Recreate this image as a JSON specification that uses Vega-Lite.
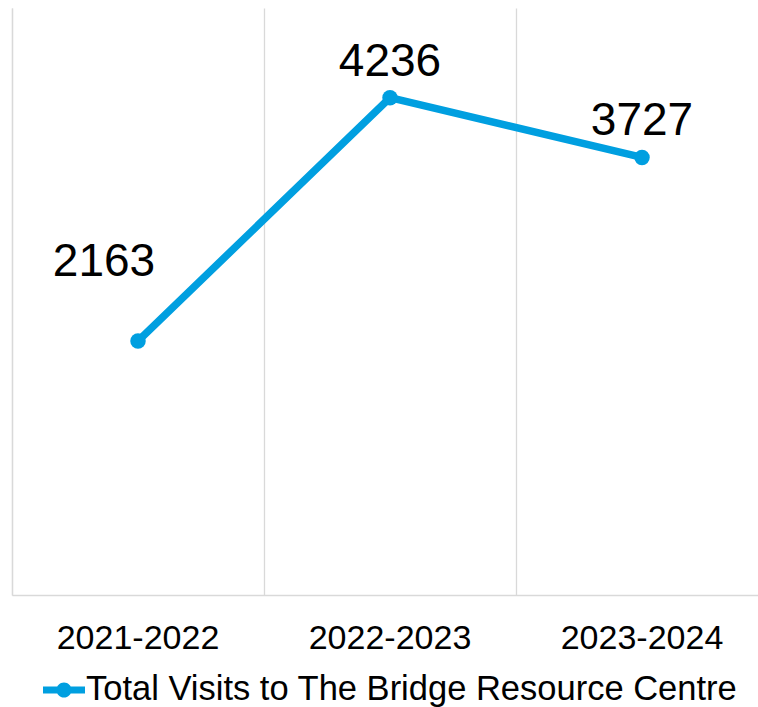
{
  "$schema": "https://vega.github.io/schema/vega-lite/v6.json",
  "width": 756,
  "height": 587,
  "autosize": {"type": "none"},
  "padding": {"left": 12, "top": 8, "right": 0, "bottom": 112},
  "background": "white",
  "config": {
    "view": {"stroke": null},
    "font": "Liberation Sans"
  },
  "data": {
    "values": [
      {"year": "2021-2022", "visits": 2163, "series": "Total Visits to The Bridge Resource Centre"},
      {"year": "2022-2023", "visits": 4236, "series": "Total Visits to The Bridge Resource Centre"},
      {"year": "2023-2024", "visits": 3727, "series": "Total Visits to The Bridge Resource Centre"}
    ]
  },
  "encoding": {
    "x": {
      "field": "year",
      "type": "nominal",
      "sort": null,
      "scale": {"type": "band", "paddingInner": 0, "paddingOuter": 0},
      "axis": {
        "title": null,
        "labelAngle": 0,
        "labelFont": "Liberation Sans",
        "labelFontSize": 34,
        "labelColor": "#000000",
        "labelBaseline": "alphabetic",
        "labelPadding": 53,
        "ticks": false,
        "domainColor": "#D9D9D9",
        "domainWidth": 1.3,
        "grid": true,
        "gridColor": "#D9D9D9",
        "gridWidth": 1.3,
        "bandPosition": 0
      }
    },
    "y": {
      "field": "visits",
      "type": "quantitative",
      "scale": {"domain": [0, 5000], "nice": false},
      "axis": {
        "title": null,
        "labels": false,
        "ticks": false,
        "grid": false,
        "domainColor": "#D9D9D9",
        "domainWidth": 1.3
      }
    }
  },
  "layer": [
    {
      "mark": {"type": "line", "strokeWidth": 7.5, "strokeCap": "round", "strokeJoin": "round"},
      "encoding": {
        "color": {
          "field": "series",
          "type": "nominal",
          "scale": {"range": ["#009FE0"]},
          "legend": {
            "title": null,
            "orient": "none",
            "legendX": 31,
            "legendY": 661,
            "symbolType": "M-1,-0.17L1,-0.17L1,0.17L-1,0.17Z M-0.36,0A0.36,0.36 0 1,1 0.36,0A0.36,0.36 0 1,1 -0.36,0Z",
            "symbolSize": 1764,
            "symbolFillColor": "#009FE0",
            "symbolStrokeWidth": 0,
            "labelFont": "Liberation Sans",
            "labelFontSize": 34.5,
            "labelColor": "#000000",
            "labelOffset": 1,
            "labelLimit": 800
          }
        }
      }
    },
    {
      "mark": {"type": "point", "filled": true, "size": 240, "opacity": 1, "color": "#009FE0"}
    },
    {
      "transform": [{"filter": "datum.year != '2021-2022'"}],
      "mark": {"type": "text", "fontSize": 46, "font": "Liberation Sans", "color": "#000000", "baseline": "alphabetic", "dy": -22},
      "encoding": {"text": {"field": "visits", "type": "quantitative", "format": "d"}}
    },
    {
      "transform": [{"filter": "datum.year == '2021-2022'"}],
      "mark": {"type": "text", "fontSize": 46, "font": "Liberation Sans", "color": "#000000", "baseline": "alphabetic", "dy": -65, "dx": -34},
      "encoding": {"text": {"field": "visits", "type": "quantitative", "format": "d"}}
    }
  ]
}
